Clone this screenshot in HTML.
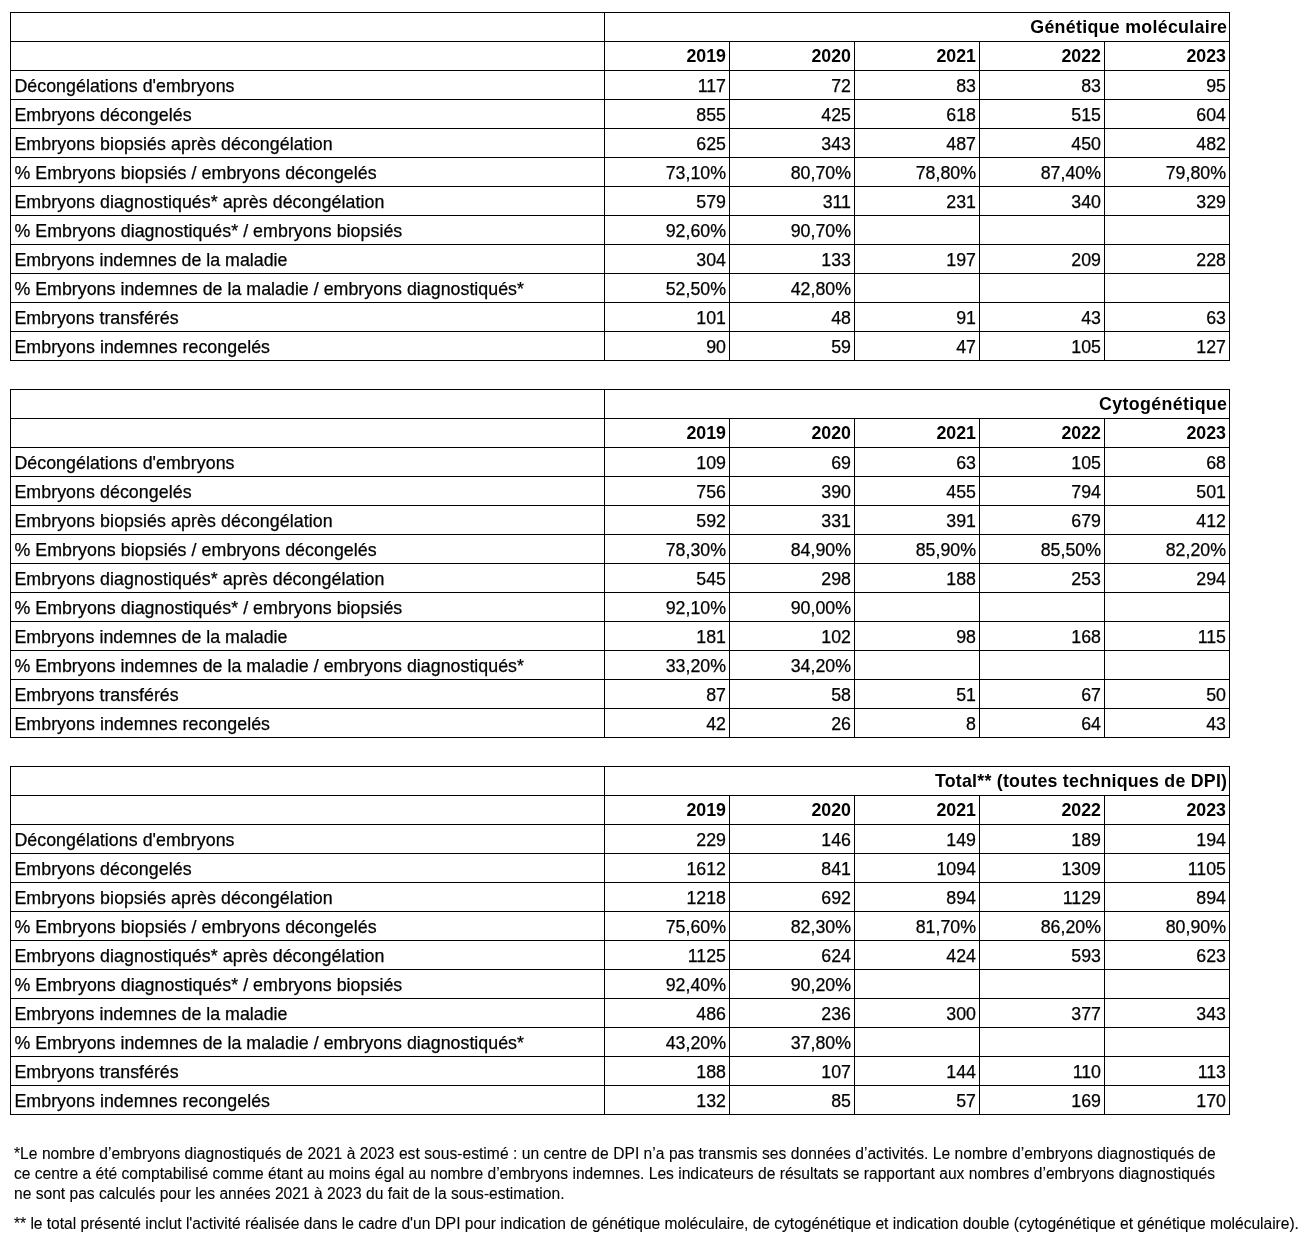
<!DOCTYPE html><html lang="fr"><head><meta charset="utf-8"><title>DPI</title><style>
*{margin:0;padding:0;box-sizing:border-box}
html,body{width:1312px;height:1244px;background:#fff;overflow:hidden}
body{position:relative;-webkit-text-stroke:0.25px #000;font-family:"Liberation Sans",sans-serif;color:#000}
table{position:absolute;left:10px;border-collapse:collapse;table-layout:fixed;font-size:17.8px}
td{border:1px solid #000;height:29px;padding:0 3px 0 3.4px;white-space:nowrap;overflow:hidden;vertical-align:middle}
td.n{text-align:right}
tr.h td{font-weight:bold;text-align:right;-webkit-text-stroke:0}
tr.d td{padding-top:2px}
.fn{position:absolute;left:14px;-webkit-text-stroke:0.1px #000;font-size:15.6px;line-height:20px;white-space:nowrap}
</style></head><body>
<table style="top:12px"><colgroup><col style="width:594px"><col style="width:125px"><col style="width:125px"><col style="width:125px"><col style="width:125px"><col style="width:125px"></colgroup>
<tr class="h t"><td></td><td colspan="5" style="letter-spacing:0.3px;padding-right:1.700px">Génétique moléculaire</td></tr>
<tr class="h"><td></td><td>2019</td><td>2020</td><td>2021</td><td>2022</td><td>2023</td></tr>
<tr class="d"><td style="letter-spacing:0.0500px">Décongélations d'embryons</td><td class="n">117</td><td class="n">72</td><td class="n">83</td><td class="n">83</td><td class="n">95</td></tr>
<tr class="d"><td style="letter-spacing:0.0667px">Embryons décongelés</td><td class="n">855</td><td class="n">425</td><td class="n">618</td><td class="n">515</td><td class="n">604</td></tr>
<tr class="d"><td style="letter-spacing:0.0833px">Embryons biopsiés après décongélation</td><td class="n">625</td><td class="n">343</td><td class="n">487</td><td class="n">450</td><td class="n">482</td></tr>
<tr class="d"><td style="letter-spacing:0.0625px">% Embryons biopsiés / embryons décongelés</td><td class="n">73,10%</td><td class="n">80,70%</td><td class="n">78,80%</td><td class="n">87,40%</td><td class="n">79,80%</td></tr>
<tr class="d"><td style="letter-spacing:0.0762px">Embryons diagnostiqués* après décongélation</td><td class="n">579</td><td class="n">311</td><td class="n">231</td><td class="n">340</td><td class="n">329</td></tr>
<tr class="d"><td style="letter-spacing:0.0545px">% Embryons diagnostiqués* / embryons biopsiés</td><td class="n">92,60%</td><td class="n">90,70%</td><td class="n"></td><td class="n"></td><td class="n"></td></tr>
<tr class="d"><td style="letter-spacing:0.0067px">Embryons indemnes de la maladie</td><td class="n">304</td><td class="n">133</td><td class="n">197</td><td class="n">209</td><td class="n">228</td></tr>
<tr class="d"><td style="letter-spacing:0.0259px">% Embryons indemnes de la maladie / embryons diagnostiqués*</td><td class="n">52,50%</td><td class="n">42,80%</td><td class="n"></td><td class="n"></td><td class="n"></td></tr>
<tr class="d"><td style="letter-spacing:0.0111px">Embryons transférés</td><td class="n">101</td><td class="n">48</td><td class="n">91</td><td class="n">43</td><td class="n">63</td></tr>
<tr class="d"><td style="letter-spacing:0.0593px">Embryons indemnes recongelés</td><td class="n">90</td><td class="n">59</td><td class="n">47</td><td class="n">105</td><td class="n">127</td></tr>
</table>
<table style="top:389px"><colgroup><col style="width:594px"><col style="width:125px"><col style="width:125px"><col style="width:125px"><col style="width:125px"><col style="width:125px"></colgroup>
<tr class="h t"><td></td><td colspan="5" style="letter-spacing:0.375px;padding-right:1.625px">Cytogénétique</td></tr>
<tr class="h"><td></td><td>2019</td><td>2020</td><td>2021</td><td>2022</td><td>2023</td></tr>
<tr class="d"><td style="letter-spacing:0.0500px">Décongélations d'embryons</td><td class="n">109</td><td class="n">69</td><td class="n">63</td><td class="n">105</td><td class="n">68</td></tr>
<tr class="d"><td style="letter-spacing:0.0667px">Embryons décongelés</td><td class="n">756</td><td class="n">390</td><td class="n">455</td><td class="n">794</td><td class="n">501</td></tr>
<tr class="d"><td style="letter-spacing:0.0833px">Embryons biopsiés après décongélation</td><td class="n">592</td><td class="n">331</td><td class="n">391</td><td class="n">679</td><td class="n">412</td></tr>
<tr class="d"><td style="letter-spacing:0.0625px">% Embryons biopsiés / embryons décongelés</td><td class="n">78,30%</td><td class="n">84,90%</td><td class="n">85,90%</td><td class="n">85,50%</td><td class="n">82,20%</td></tr>
<tr class="d"><td style="letter-spacing:0.0762px">Embryons diagnostiqués* après décongélation</td><td class="n">545</td><td class="n">298</td><td class="n">188</td><td class="n">253</td><td class="n">294</td></tr>
<tr class="d"><td style="letter-spacing:0.0545px">% Embryons diagnostiqués* / embryons biopsiés</td><td class="n">92,10%</td><td class="n">90,00%</td><td class="n"></td><td class="n"></td><td class="n"></td></tr>
<tr class="d"><td style="letter-spacing:0.0067px">Embryons indemnes de la maladie</td><td class="n">181</td><td class="n">102</td><td class="n">98</td><td class="n">168</td><td class="n">115</td></tr>
<tr class="d"><td style="letter-spacing:0.0259px">% Embryons indemnes de la maladie / embryons diagnostiqués*</td><td class="n">33,20%</td><td class="n">34,20%</td><td class="n"></td><td class="n"></td><td class="n"></td></tr>
<tr class="d"><td style="letter-spacing:0.0111px">Embryons transférés</td><td class="n">87</td><td class="n">58</td><td class="n">51</td><td class="n">67</td><td class="n">50</td></tr>
<tr class="d"><td style="letter-spacing:0.0593px">Embryons indemnes recongelés</td><td class="n">42</td><td class="n">26</td><td class="n">8</td><td class="n">64</td><td class="n">43</td></tr>
</table>
<table style="top:766px"><colgroup><col style="width:594px"><col style="width:125px"><col style="width:125px"><col style="width:125px"><col style="width:125px"><col style="width:125px"></colgroup>
<tr class="h t"><td></td><td colspan="5" style="letter-spacing:0.24px;padding-right:1.760px">Total** (toutes techniques de DPI)</td></tr>
<tr class="h"><td></td><td>2019</td><td>2020</td><td>2021</td><td>2022</td><td>2023</td></tr>
<tr class="d"><td style="letter-spacing:0.0500px">Décongélations d'embryons</td><td class="n">229</td><td class="n">146</td><td class="n">149</td><td class="n">189</td><td class="n">194</td></tr>
<tr class="d"><td style="letter-spacing:0.0667px">Embryons décongelés</td><td class="n">1612</td><td class="n">841</td><td class="n">1094</td><td class="n">1309</td><td class="n">1105</td></tr>
<tr class="d"><td style="letter-spacing:0.0833px">Embryons biopsiés après décongélation</td><td class="n">1218</td><td class="n">692</td><td class="n">894</td><td class="n">1129</td><td class="n">894</td></tr>
<tr class="d"><td style="letter-spacing:0.0625px">% Embryons biopsiés / embryons décongelés</td><td class="n">75,60%</td><td class="n">82,30%</td><td class="n">81,70%</td><td class="n">86,20%</td><td class="n">80,90%</td></tr>
<tr class="d"><td style="letter-spacing:0.0762px">Embryons diagnostiqués* après décongélation</td><td class="n">1125</td><td class="n">624</td><td class="n">424</td><td class="n">593</td><td class="n">623</td></tr>
<tr class="d"><td style="letter-spacing:0.0545px">% Embryons diagnostiqués* / embryons biopsiés</td><td class="n">92,40%</td><td class="n">90,20%</td><td class="n"></td><td class="n"></td><td class="n"></td></tr>
<tr class="d"><td style="letter-spacing:0.0067px">Embryons indemnes de la maladie</td><td class="n">486</td><td class="n">236</td><td class="n">300</td><td class="n">377</td><td class="n">343</td></tr>
<tr class="d"><td style="letter-spacing:0.0259px">% Embryons indemnes de la maladie / embryons diagnostiqués*</td><td class="n">43,20%</td><td class="n">37,80%</td><td class="n"></td><td class="n"></td><td class="n"></td></tr>
<tr class="d"><td style="letter-spacing:0.0111px">Embryons transférés</td><td class="n">188</td><td class="n">107</td><td class="n">144</td><td class="n">110</td><td class="n">113</td></tr>
<tr class="d"><td style="letter-spacing:0.0593px">Embryons indemnes recongelés</td><td class="n">132</td><td class="n">85</td><td class="n">57</td><td class="n">169</td><td class="n">170</td></tr>
</table>
<div class="fn" style="top:1144px;letter-spacing:0.0335px">*Le nombre d’embryons diagnostiqués de 2021 à 2023 est sous-estimé : un centre de DPI n’a pas transmis ses données d’activités. Le nombre d’embryons diagnostiqués de</div>
<div class="fn" style="top:1164px;letter-spacing:0.0030px">ce centre a été comptabilisé comme étant au moins égal au nombre d’embryons indemnes. Les indicateurs de résultats se rapportant aux nombres d’embryons diagnostiqués</div>
<div class="fn" style="top:1184px;letter-spacing:0.0000px">ne sont pas calculés pour les années 2021 à 2023 du fait de la sous-estimation.</div>
<div class="fn" style="top:1214px;letter-spacing:-0.0209px">** le total présenté inclut l'activité réalisée dans le cadre d'un DPI pour indication de génétique moléculaire, de cytogénétique et indication double (cytogénétique et génétique moléculaire).</div>
</body></html>
